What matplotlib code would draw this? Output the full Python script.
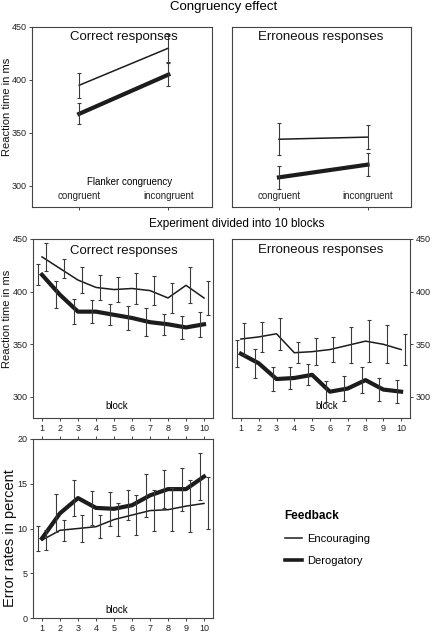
import numpy as np
import matplotlib
matplotlib.use("Agg")
import matplotlib.pyplot as plt

plt.rcParams["font.family"] = ["Liberation Sans", "DejaVu Sans"]

# Congruency effect (top row)
congruency_labels = ["congruent", "incongruent"]
cong_correct_enc = [395, 430]
cong_correct_enc_err = [12, 13]
cong_correct_der = [368, 405]
cong_correct_der_err = [10, 11]
cong_error_enc = [344, 346]
cong_error_enc_err = [15, 11]
cong_error_der = [308, 320]
cong_error_der_err = [11, 11]

# Experiment divided into 10 blocks
blocks = [1, 2, 3, 4, 5, 6, 7, 8, 9, 10]
block_correct_enc = [433, 422, 411, 404, 402, 403, 401, 394, 406, 394]
block_correct_enc_err = [13, 9, 12, 12, 12, 15, 14, 14, 17, 16]
block_correct_der = [416, 397, 381, 381, 378, 375, 371, 369, 366, 369]
block_correct_der_err = [10, 13, 12, 11, 10, 11, 13, 10, 11, 12]
block_error_enc = [355, 357, 360, 342, 343, 345, 349, 353, 350, 345]
block_error_enc_err = [15, 14, 15, 10, 13, 12, 17, 20, 18, 15]
block_error_der = [341, 332, 317, 318, 321, 305, 308, 316, 307, 305]
block_error_der_err = [13, 14, 11, 10, 10, 10, 12, 12, 11, 11]

# Error rates per block
rate_enc = [8.7, 9.8, 10.0, 10.2, 11.0, 11.5, 12.0, 12.1, 12.5, 12.8]
rate_enc_err = [1.1, 1.2, 1.5, 1.3, 1.8, 2.2, 2.3, 2.4, 2.9, 2.9]
rate_der = [8.9, 11.7, 13.4, 12.3, 12.2, 12.6, 13.7, 14.4, 14.4, 15.8]
rate_der_err = [1.4, 2.1, 2.0, 1.9, 1.9, 1.7, 2.4, 2.1, 2.4, 2.6]

rt_ticks = [300, 350, 400, 450]
rate_ticks = [0, 5, 10, 15, 20]

W, H = 433, 633
INK = "#1c1c1c"
BAR = "#3a3a3a"
FRAME = "#444444"


def px_rect(x0, y0, x1, y1):
    return [x0 / W, 1 - y1 / H, (x1 - x0) / W, (y1 - y0) / H]


def style_axes(ax):
    for s in ax.spines.values():
        s.set_color(FRAME)
        s.set_linewidth(0.8)
    ax.tick_params(direction="out", length=2.5, width=0.7, labelsize=6.5,
                   color=FRAME, labelcolor="#222222", pad=1.5)


def draw_series(ax, x, enc, enc_err, der, der_err, dodge=(0.0, 0.0)):
    x = np.asarray(x, dtype=float)
    ax.plot(x, enc, color=INK, lw=1.1, label="Encouraging")
    ax.plot(x, der, color=INK, lw=3.0, label="Derogatory")
    ax.errorbar(x + dodge[0], enc, yerr=enc_err, fmt="none", ecolor=BAR,
                elinewidth=0.8, capsize=1.3, capthick=0.8)
    ax.errorbar(x + dodge[1], der, yerr=der_err, fmt="none", ecolor=BAR,
                elinewidth=0.8, capsize=1.3, capthick=0.8)


def panel_title(ax, text, x, y):
    ax.text(x, y, text, transform=ax.transAxes, ha="center", va="center",
            fontsize=9.5, color="#111111")


def side_label(ax, text, x, y, size):
    ax.text(x, y, text, transform=ax.transAxes, rotation=90, ha="center",
            va="center", fontsize=size, color="#111111")


def main() -> None:
    fig = plt.figure(figsize=(W / 100, H / 100), dpi=100)

    fig.text(224 / W, 1 - 7 / H, "Congruency effect", ha="center", va="center",
             fontsize=9.5)
    fig.text(237 / W, 1 - 224 / H, "Experiment divided into 10 blocks",
             ha="center", va="center", fontsize=8.5)

    # top row
    ax_tl = fig.add_axes(px_rect(32, 27, 212, 207))
    ax_tr = fig.add_axes(px_rect(232, 27, 411, 207))
    cx = [1, 2]
    draw_series(ax_tl, cx, cong_correct_enc, cong_correct_enc_err,
                cong_correct_der, cong_correct_der_err)
    draw_series(ax_tr, cx, cong_error_enc, cong_error_enc_err,
                cong_error_der, cong_error_der_err)
    for ax in (ax_tl, ax_tr):
        style_axes(ax)
        ax.set_xlim(0.47, 2.49)
        ax.set_ylim(280, 450)
        ax.set_xticks(cx, congruency_labels)
        ax.tick_params(axis="x", labelsize=7, pad=-14)
    ax_tl.set_yticks(rt_ticks)
    ax_tr.set_yticks([])
    ax_tl.text(0.54, 0.139, "Flanker congruency", transform=ax_tl.transAxes,
               ha="center", va="center", fontsize=7)
    panel_title(ax_tl, "Correct responses", 0.51, 0.944)
    panel_title(ax_tr, "Erroneous responses", 0.495, 0.944)
    side_label(ax_tl, "Reaction time in ms", -0.139, 0.556, 8)

    # middle row
    dodge = (0.2, -0.22)
    ax_ml = fig.add_axes(px_rect(33, 239, 213, 418))
    ax_mr = fig.add_axes(px_rect(232, 239, 410, 418))
    draw_series(ax_ml, blocks, block_correct_enc, block_correct_enc_err,
                block_correct_der, block_correct_der_err, dodge)
    draw_series(ax_mr, blocks, block_error_enc, block_error_enc_err,
                block_error_der, block_error_der_err, dodge)
    for ax in (ax_ml, ax_mr):
        style_axes(ax)
        ax.set_xlim(0.5, 10.5)
        ax.set_ylim(280, 450)
        ax.set_xticks(blocks)
        ax.set_yticks(rt_ticks)
    ax_mr.yaxis.tick_right()
    ax_ml.text(0.467, 0.067, "block", transform=ax_ml.transAxes, ha="center",
               va="center", fontsize=7)
    ax_mr.text(0.53, 0.067, "block", transform=ax_mr.transAxes, ha="center",
               va="center", fontsize=7)
    panel_title(ax_ml, "Correct responses", 0.505, 0.934)
    panel_title(ax_mr, "Erroneous responses", 0.497, 0.938)
    side_label(ax_ml, "Reaction time in ms", -0.144, 0.553, 8)

    # bottom: error rates
    ax_b = fig.add_axes(px_rect(33, 439, 213, 618))
    draw_series(ax_b, blocks, rate_enc, rate_enc_err, rate_der, rate_der_err,
                dodge)
    style_axes(ax_b)
    ax_b.set_xlim(0.5, 10.5)
    ax_b.set_ylim(0, 20)
    ax_b.set_xticks(blocks)
    ax_b.set_yticks(rate_ticks)
    ax_b.tick_params(axis="x", top=True)
    ax_b.text(0.467, 0.045, "block", transform=ax_b.transAxes, ha="center",
              va="center", fontsize=7)
    side_label(ax_b, "Error rates in percent", -0.128, 0.447, 10.5)

    handles, labels = ax_b.get_legend_handles_labels()
    leg = fig.legend(handles, labels, title="Feedback", loc="upper left",
                     bbox_to_anchor=(279 / W, 1 - 504 / H), frameon=False,
                     fontsize=8, handlelength=1.6, handletextpad=0.45,
                     labelspacing=1.1, borderpad=0, alignment="left",
                     title_fontproperties={"weight": "bold", "size": 8.5})
    leg.get_lines()[1].set_linewidth(2.6)

    fig.savefig("out.png", dpi=100)


if __name__ == "__main__":
    main()
